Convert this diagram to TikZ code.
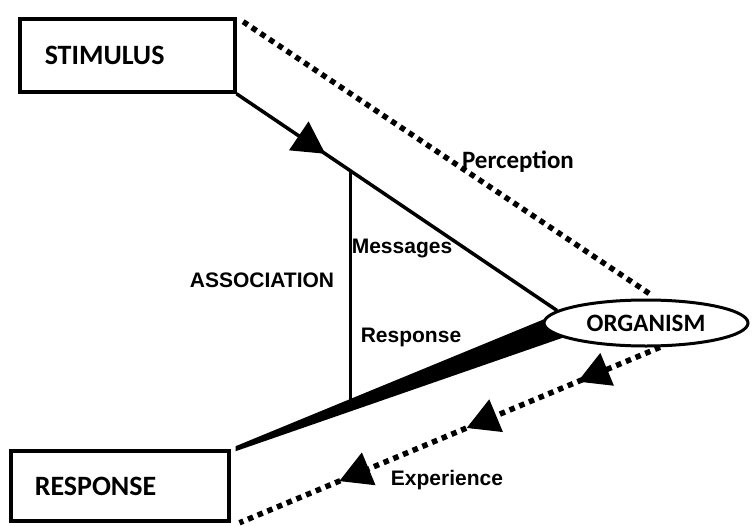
\documentclass[tikz,border=0pt]{standalone}
\usepackage{fontspec}
\setmainfont{Liberation Sans}
\newfontfamily\boxfont{Carlito}
\usetikzlibrary{shapes.geometric,calc,arrows.meta,decorations.markings,backgrounds}

\tikzset{
  textbox/.style={draw, line width=3.5pt, anchor=west, align=left,
    font=\boxfont\bfseries\fontsize{28}{30}\selectfont},
  lbl/.style={font=\bfseries\fontsize{21}{24}\selectfont},
  dots/.style={line width=5.5pt, dash pattern=on 5.5pt off 5pt},
  bigtip/.style={decoration={markings, mark=at position #1 with {\arrow{Triangle[length=32pt,width=34pt]}}}, postaction={decorate}}
}

\begin{document}
\begin{tikzpicture}[x=1pt,y=-1pt]
\useasboundingbox (0,0) rectangle (752,525);

\node[textbox, inner xsep=25pt, text width=165pt, minimum height=73pt] (stim) at (18,55.5) {STIMULUS};
\node[textbox, inner xsep=24pt, text width=170pt, minimum height=70pt] (resp) at (9,486) {RESPONSE};
\node[ellipse, draw, fill=white, line width=3pt, minimum width=204pt, minimum height=46pt, inner sep=0pt,
  font=\boxfont\bfseries\fontsize{25}{27}\selectfont] (org) at (646,323) {ORGANISM};

\coordinate (bandtip) at ([xshift=5pt,yshift=3pt]resp.north east);
\coordinate (expend) at ([xshift=9pt]resp.south east);
\coordinate (assoctop) at ($(stim.south east)!0.356!(org.172)$);
\coordinate (assocbot) at ($(bandtip)!0.36!(org.178)$);

\begin{scope}[on background layer]
\draw[line width=3.5pt, bigtip=0.277] (stim.south east) -- (org.172);
\fill (bandtip) -- (org.178) -- (org.190) -- ([yshift=-5pt]bandtip) -- cycle;
\draw[line width=3.5pt] (assoctop) -- (assoctop |- assocbot);
\end{scope}

% dotted ones
\draw[dots, shorten <=8pt, shorten >=6pt] (stim.north east) -- (org.66);
\draw[dots, decoration={markings,
    mark=at position 0.196 with {\arrow{Triangle[length=32pt,width=34pt]}},
    mark=at position 0.46 with {\arrow{Triangle[length=32pt,width=34pt]}},
    mark=at position 0.763 with {\arrow{Triangle[length=32pt,width=34pt]}}},
  postaction={decorate}] (org.-60) -- (expend);

\node[font=\boxfont\bfseries\fontsize{25}{27}\selectfont] (perc) at (518,162) {Perception};
\node[lbl] (assoc) at (262,280) {ASSOCIATION};
\node[lbl] (msg) at (402,248) {Messages};
\node[lbl] (resplbl) at (411,337) {Response};
\node[lbl] (exp) at (447,480) {Experience};

\end{tikzpicture}
\end{document}
